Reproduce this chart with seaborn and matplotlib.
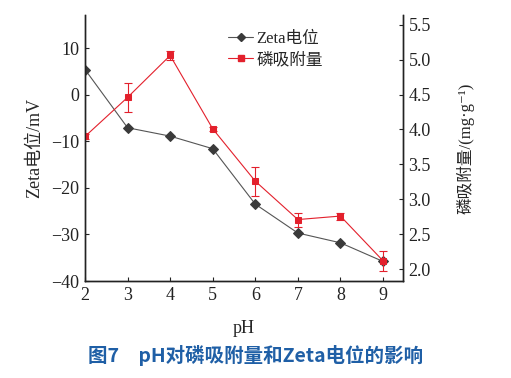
import seaborn as sns
import pandas as pd
import matplotlib.pyplot as plt
from matplotlib.lines import Line2D

# data
ph = [2, 3, 4, 5, 6, 7, 8, 9]
zeta = [5.4, -7.1, -8.9, -11.6, -23.5, -29.7, -31.8, -35.8]
p_ads = [3.90, 4.46, 5.06, 4.01, 3.26, 2.71, 2.76, 2.12]
p_err = [0.03, 0.21, 0.07, 0.03, 0.21, 0.10, 0.05, 0.14]

zeta_df = pd.DataFrame({'pH': ph, 'zeta': zeta})
ads_df = pd.DataFrame({'pH': ph, 'ads': p_ads, 'err': p_err})

sns.set_style('ticks')
plt.rcParams['font.family'] = ['Liberation Serif', 'Noto Sans CJK SC', 'DejaVu Sans']

BLACK = '#3a3a3a'
RED = '#e3202c'

fig = plt.figure(figsize=(5.11, 3.78), dpi=100)
ax = fig.add_axes([85 / 511, 1 - 281 / 378, 318 / 511, 266 / 378])
ax2 = ax.twinx()

sns.lineplot(data=zeta_df, x='pH', y='zeta', ax=ax, color='#555555', lw=0.8,
             marker='D', markersize=5, markerfacecolor=BLACK, markeredgecolor=BLACK)

ax2.errorbar(ads_df.pH, ads_df.ads, yerr=ads_df.err, fmt='none', ecolor=RED,
             elinewidth=0.8, capsize=3, capthick=0.8)
sns.lineplot(data=ads_df, x='pH', y='ads', ax=ax2, color=RED, lw=0.8,
             marker='s', markersize=5, markerfacecolor=RED, markeredgecolor=RED)

ax.set_xlim(2, 9.47)
ax.set_ylim(-40, 17.1)
ax2.set_ylim(1.83, 5.64)
ax.set_xticks(ph)
ax.set_yticks([-40, -30, -20, -10, 0, 10])
ax.set_yticklabels(['\u221240', '\u221230', '\u221220', '\u221210', '0', '10'])
ax2.set_yticks([2.0, 2.5, 3.0, 3.5, 4.0, 4.5, 5.0, 5.5])
ax2.set_yticklabels(['2.0', '2.5', '3.0', '3.5', '4.0', '4.5', '5.0', '5.5'])

for a in (ax, ax2):
    a.spines['top'].set_visible(False)
    for s in a.spines.values():
        s.set_linewidth(1.0)
        s.set_color('#222222')
    a.tick_params(direction='in', length=3, width=0.8, labelsize=13,
                  colors='#222222', pad=4)
ax2.spines['right'].set_visible(True)

ax.set_xlabel('pH', fontsize=13, labelpad=12)
ax.set_ylabel('Zeta电位/mV', fontsize=13, labelpad=6)
ax2.set_ylabel('磷吸附量/(mg\u00b7g\u207b\u00b9)', fontsize=12, rotation=90,
               labelpad=18)

handles = [
    Line2D([], [], color='#555555', lw=0.8, marker='D', markersize=4,
           markerfacecolor=BLACK, markeredgecolor=BLACK),
    Line2D([], [], color=RED, lw=0.8, marker='s', markersize=4,
           markerfacecolor=RED, markeredgecolor=RED),
]
ax.legend(handles, ['Zeta电位', '磷吸附量'], loc='upper left',
          bbox_to_anchor=(0.43, 0.965), frameon=False, fontsize=12,
          handlelength=1.5, handletextpad=0.2, labelspacing=0.3,
          borderaxespad=0)

fig.text(0.5, 1 - 356 / 378, '图7\u3000pH对磷吸附量和Zeta电位的影响',
         ha='center', va='center', fontsize=14, color='#1f5fa6',
         family=['Noto Sans CJK SC', 'DejaVu Sans'], fontweight='semibold')

fig.savefig('out.png', dpi=100)
